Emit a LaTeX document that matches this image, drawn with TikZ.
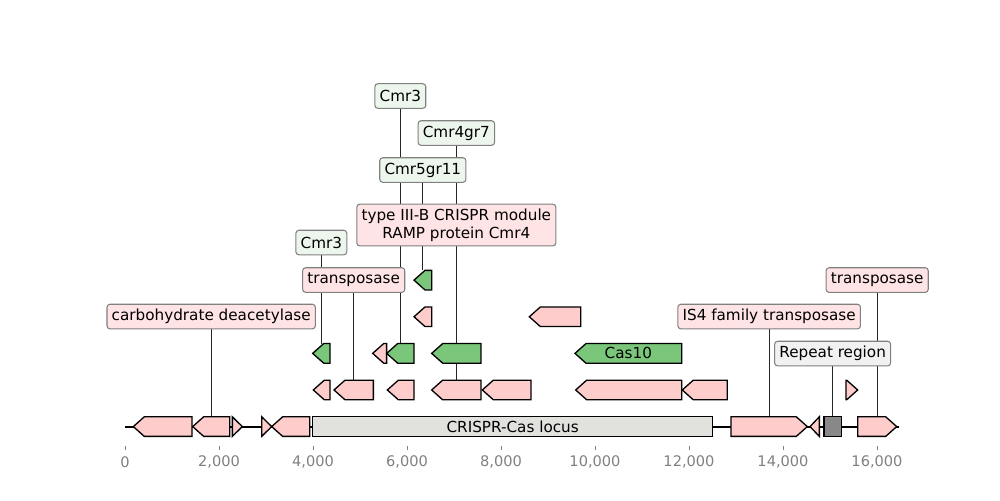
\documentclass[tikz,border=0pt]{standalone}
\usepackage{fontspec}
\setmainfont{DejaVu Sans}
\usepackage{tikz}
\usetikzlibrary{backgrounds}
\usepackage{xcolor}

\definecolor{featpink}{RGB}{255,204,204}
\definecolor{featgreen}{RGB}{122,198,122}
\definecolor{labpink}{RGB}{255,228,230}
\definecolor{labgreen}{RGB}{237,246,237}
\definecolor{labgrey}{RGB}{241,241,241}
\definecolor{locusgrey}{RGB}{225,225,221}
\definecolor{repgrey}{RGB}{136,136,136}

\newcommand{\featleft}[5]{%
  \pgfmathsetmacro\headlen{min(0.234,#2-#1)}
  \draw[#4] (#1,#3) -- ({#1+\headlen},{#3-9.8}) -- (#2,{#3-9.8}) -- (#2,{#3+9.8}) -- ({#1+\headlen},{#3+9.8}) -- cycle;
  \coordinate (#5) at ({(#1+#2)/2},{#3-9.8});}
\newcommand{\featright}[5]{%
  \pgfmathsetmacro\headlen{min(0.234,#2-#1)}
  \draw[#4] (#1,{#3-9.8}) -- ({#2-\headlen},{#3-9.8}) -- (#2,#3) -- ({#2-\headlen},{#3+9.8}) -- (#1,{#3+9.8}) -- cycle;
  \coordinate (#5) at ({(#1+#2)/2},{#3-9.8});}
\newcommand{\featbox}[5]{%
  \draw[#4] (#1,{#3-9.8}) rectangle (#2,{#3+9.8});
  \coordinate (#5) at ({(#1+#2)/2},{#3-9.8});}

\begin{document}
\begin{tikzpicture}[x=0.94cm,y=-0.02cm,
  feat/.style={draw=black,line width=0.75pt},
  pinkfeat/.style={feat,fill=featpink},
  greenfeat/.style={feat,fill=featgreen},
  locusfeat/.style={feat,fill=locusgrey},
  repfeat/.style={feat,fill=repgrey},
  lab/.style={draw=gray,line width=0.6pt,rounded corners=1.7pt,inner xsep=2.7pt,inner ysep=2.5pt,minimum height=14pt,align=center,font=\fontsize{8.66pt}{10.4pt}\selectfont},
  labp/.style={lab,fill=labpink},
  labg/.style={lab,fill=labgreen},
  labgr/.style={lab,fill=labgrey},
  feattext/.style={font=\fontsize{8.66pt}{10.4pt}\selectfont,inner sep=0pt},
  labline/.style={line width=0.4pt,black!85}]
 \useasboundingbox (-2.6596,0) rectangle (18.617,500);

 \draw[line width=1.1pt] (0,426.5) -- (16.475,426.5);
 \foreach \k/\t in {0/0,2/{2,000},4/{4,000},6/{6,000},8/{8,000},10/{10,000},12/{12,000},14/{14,000},16/{16,000}}{
  \draw[gray,line width=0.5pt] (\k,446) -- (\k,450);
  \node[gray,font=\fontsize{8.3pt}{9.5pt}\selectfont] (tick\k) at (\k,462) {\t};
 }

 \featleft{0.177}{1.426}{426.5}{pinkfeat}{a1}
 \featleft{1.440}{2.227}{426.5}{pinkfeat}{a2}
 \featright{2.284}{2.496}{426.5}{pinkfeat}{a3}
 \featright{2.908}{3.121}{426.5}{pinkfeat}{a4}
 \featleft{3.121}{3.929}{426.5}{pinkfeat}{a5}
 \featbox{3.993}{12.504}{426.5}{locusfeat}{a6}
 \featright{12.894}{14.517}{426.5}{pinkfeat}{a7}
 \featleft{14.574}{14.773}{426.5}{pinkfeat}{a8}
 \featbox{14.872}{15.241}{426.5}{repfeat}{a9}
 \featright{15.589}{16.419}{426.5}{pinkfeat}{a10}

 \featleft{4.007}{4.362}{389.9}{pinkfeat}{b1}
 \featleft{4.447}{5.284}{389.9}{pinkfeat}{b2}
 \featleft{5.582}{6.149}{389.9}{pinkfeat}{b3}
 \featleft{6.525}{7.574}{389.9}{pinkfeat}{b4}
 \featleft{7.603}{8.638}{389.9}{pinkfeat}{b5}
 \featleft{9.589}{11.844}{389.9}{pinkfeat}{b6}
 \featleft{11.857}{12.815}{389.9}{pinkfeat}{b7}
 \featright{15.340}{15.589}{389.9}{pinkfeat}{b8}

 \featleft{3.993}{4.362}{353.3}{greenfeat}{c1}
 \featleft{5.270}{5.567}{353.3}{pinkfeat}{c2}
 \featleft{5.567}{6.149}{353.3}{greenfeat}{c3}
 \featleft{6.525}{7.574}{353.3}{greenfeat}{c4}
 \featleft{9.574}{11.844}{353.3}{greenfeat}{c5}

 \featleft{6.149}{6.525}{316.7}{pinkfeat}{d1}
 \featleft{8.603}{9.696}{316.7}{pinkfeat}{d2}

 \featleft{6.149}{6.525}{280.1}{greenfeat}{e1}

 \node[feattext] (tlocus) at (a6 |- 0,426.5) {CRISPR-Cas locus};
 \node[feattext] (tcas) at (c5 |- 0,353.3) {Cas10};

 \node[labp] (lcarb) at (a2 |- 0,316.5) {carbohydrate deacetylase};
 \node[labg] (lcmrA) at (c1 |- 0,242.5) {Cmr3};
 \node[labp] (ltrA) at (b2 |- 0,280) {transposase};
 \node[labg] (lcmrB) at (c3 |- 0,96) {Cmr3};
 \node[labg] (lcmrC) at (c4 |- 0,133) {Cmr4gr7};
 \node[labg] (lcmrD) at (e1 |- 0,170) {Cmr5gr11};
 \node[labp] (lramp) at (b4 |- 0,225) {type III-B CRISPR module\\RAMP protein Cmr4};
 \node[labp] (lis) at (a7 |- 0,316.5) {IS4 family transposase};
 \node[labgr] (lrep) at (a9 |- 0,353.5) {Repeat region};
 \node[labp] (ltrB) at (a10 |- 0,280) {transposase};

 \begin{pgfonlayer}{background}
  \draw[labline] (lcarb) -- (a2);
  \draw[labline] (lcmrA) -- (c1);
  \draw[labline] (ltrA) -- (b2);
  \draw[labline] (lcmrB) -- (c3);
  \draw[labline] (lcmrC) -- (c4);
  \draw[labline] (lcmrD) -- (e1);
  \draw[labline] (lramp) -- (b4);
  \draw[labline] (lis) -- (a7);
  \draw[labline] (lrep) -- (a9);
  \draw[labline] (ltrB) -- (a10);
 \end{pgfonlayer}
\end{tikzpicture}
\end{document}
